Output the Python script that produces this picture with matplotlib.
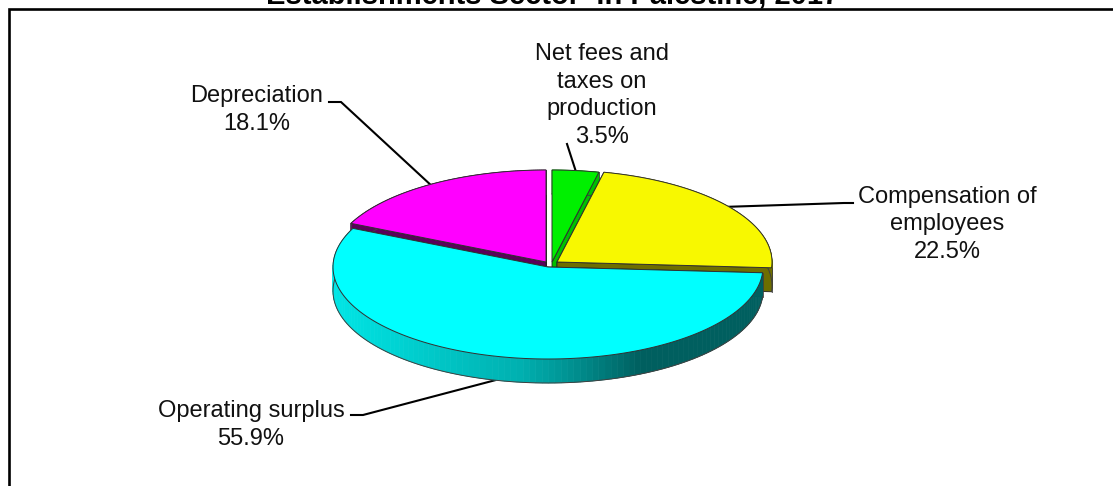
import numpy as np
import matplotlib
matplotlib.use('Agg')
import matplotlib.pyplot as plt
from matplotlib.patches import Polygon

plt.rcParams['font.family'] = ['Liberation Sans', 'DejaVu Sans']

title = 'Establishments Sector  in Palestine, 2017'
names = ['Net fees and\ntaxes on\nproduction', 'Compensation of\nemployees',
         'Operating surplus', 'Depreciation']
shares = [3.5, 22.5, 55.9, 18.1]

top_colors = ['#00f000', '#f8f800', '#00ffff', '#ff00ff']
side_colors = ['#00c000', '#6e6e00', '#00a0a0', '#5a005a']

# pixel layout of the tilted pie
rx, ry, depth = 215, 92, 24
centers = [(552, 262), (557, 262), (548, 267), (546, 262)]
label_pos = [(602, 143), (947, 258), (251, 445), (257, 130)]
elbows = [[(567, 144)],
          [(853, 203), (844, 203)],
          [(351, 415), (363, 415)],
          [(329, 102), (341, 102)]]

rim_x = [333, 450, 520, 573, 640, 763]
rim_g = [230, 195, 176, 144, 95, 95]

edges = np.cumsum([0] + shares) / 100 * 2 * np.pi


def arc(center, t0, t1, n=120):
    t = np.linspace(t0, t1, n)
    return np.column_stack([center[0] + rx * np.sin(t), center[1] - ry * np.cos(t)])


fig = plt.figure(figsize=(11.13, 4.86), dpi=100)
ax = fig.add_axes([0, 0, 1, 1])
ax.set_xlim(0, 1113)
ax.set_ylim(486, 0)
ax.axis('off')

# chart frame, right and bottom sides fall outside the picture
ax.plot([9, 9, 1130], [500, 9, 9], color='black', lw=1.9, clip_on=False,
        solid_joinstyle='miter')

ax.text(553, 3, title, ha='center', va='baseline', fontsize=21, fontweight='bold')


def draw_slice(i, z):
    c = centers[i]
    t0, t1 = edges[i], edges[i + 1]
    outer = arc(c, t0, t1)
    shift = np.array([0, depth])

    # cut faces
    for p in (outer[0], outer[-1]):
        face = np.array([c, p, p + shift, np.array(c) + shift])
        ax.add_patch(Polygon(face, closed=True, fc=side_colors[i], ec='#202020', lw=0.6, zorder=z))

    # outer rim, shaded along x
    for a, b in zip(outer[:-1], outer[1:]):
        if i == 2:
            g = np.interp((a[0] + b[0]) / 2, rim_x, rim_g) / 255
            col = (0, g, g)
        else:
            col = side_colors[i]
        ax.add_patch(Polygon([a, b, b + shift, a + shift], closed=True, fc=col, ec=col, lw=0.5,
                             zorder=z + 1))
    ax.plot(outer[:, 0], outer[:, 1] + depth, color='#404040', lw=0.7, zorder=z + 2)
    ax.plot([outer[0, 0]] * 2, [outer[0, 1], outer[0, 1] + depth], color='#404040', lw=0.6, zorder=z + 2)
    ax.plot([outer[-1, 0]] * 2, [outer[-1, 1], outer[-1, 1] + depth], color='#404040', lw=0.6, zorder=z + 2)

    # top surface
    ax.add_patch(Polygon(np.vstack([c, outer]), closed=True, fc=top_colors[i],
                         ec='#303030', lw=0.7, joinstyle='miter', zorder=z + 3))


for z, i in enumerate([3, 0, 1, 2]):
    draw_slice(i, 10 + z * 5)

for i, name in enumerate(names):
    mid = arc(centers[i], edges[i], edges[i + 1], 3)[1]
    if i == 2:
        mid = mid + [0, depth]
    pts = np.array(elbows[i] + [tuple(mid)])
    ax.plot(pts[:, 0], pts[:, 1], color='black', lw=1.5, solid_joinstyle='miter', zorder=5)
    ax.text(label_pos[i][0], label_pos[i][1], f'{name}\n{shares[i]}%', ha='center',
            va='baseline', multialignment='center', fontsize=17, linespacing=1.33, color='#111111')

fig.savefig('out.png', dpi=100)
